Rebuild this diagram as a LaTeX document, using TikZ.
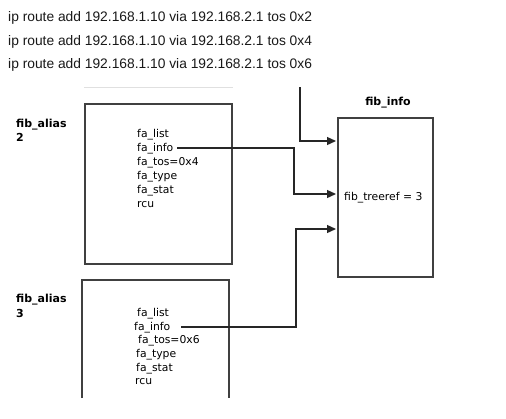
\documentclass[tikz,border=0pt]{standalone}
\usepackage{fontspec}
\setmainfont{DejaVu Sans}
\newfontfamily\arialfont{Liberation Sans}
\usetikzlibrary{arrows.meta}
\begin{document}
\begin{tikzpicture}[x=1pt,y=-1pt,
  cmd/.style={font=\arialfont\fontsize{13.8}{16}\selectfont, anchor=base west, inner sep=0pt, text=black!90},
  field/.style={font=\fontsize{10.8}{12}\selectfont, anchor=base west, inner sep=0pt},
  title/.style={font=\bfseries\fontsize{11}{13}\selectfont, inner sep=0pt},
  boxline/.style={draw=black!75, line width=1.5pt},
  conn/.style={draw=black!85, line width=1.3pt},
  arr/.style={conn, -{Triangle[length=9pt,width=8pt]}},
  faint/.style={draw=black!12, line width=1pt}
]
\useasboundingbox[fill=white] (0,0) rectangle (506,418);

% command lines
\node[cmd] (c1) at (8,21) {ip route add 192.168.1.10 via 192.168.2.1 tos 0x2};
\node[cmd] (c2) at (8,45) {ip route add 192.168.1.10 via 192.168.2.1 tos 0x4};
\node[cmd] (c3) at (8,68) {ip route add 192.168.1.10 via 192.168.2.1 tos 0x6};

% faint line above box
\coordinate (f1) at (84,87);
\coordinate (f2) at (233,87);
\draw[faint] (f1) -- (f2);

% fib_alias 2 box
\node[boxline, minimum width=147pt, minimum height=160pt, anchor=north west, inner sep=0pt] (fa2) at (84,103) {};
\node[title, anchor=base west] (t2a) at (16,127) {fib\_alias};
\node[title, anchor=base west] (t2b) at (16,141) {2};
\node[field] (l2a) at (137,137) {fa\_list};
\node[field] (l2b) at (137,151) {fa\_info};
\node[field] (l2c) at (137,165) {fa\_tos=0x4};
\node[field] (l2d) at (137,179) {fa\_type};
\node[field] (l2e) at (137,193) {fa\_stat};
\node[field] (l2f) at (137,207) {rcu};

% fib_alias 3 box (cut off at the bottom)
\coordinate (b3a) at (82,398);
\coordinate (b3b) at (82,280);
\coordinate (b3c) at (229,280);
\coordinate (b3d) at (229,398);
\draw[boxline] (b3a) -- (b3b) -- (b3c) -- (b3d);
\node[title, anchor=base west] (t3a) at (16,302) {fib\_alias};
\node[title, anchor=base west] (t3b) at (16,317) {3};
\node[field] (l3a) at (137,316) {fa\_list};
\node[field] (l3b) at (134,330) {fa\_info};
\node[field] (l3c) at (138,343.5) {fa\_tos=0x6};
\node[field] (l3d) at (136,357) {fa\_type};
\node[field] (l3e) at (136,371) {fa\_stat};
\node[field] (l3f) at (135,384.5) {rcu};

% fib_info box
\node[boxline, minimum width=95pt, minimum height=159pt, anchor=north west, inner sep=0pt] (fi) at (337,117) {};
\node[title, anchor=base] (tfi) at (388,105) {fib\_info};
\node[field] (tr) at (344,200) {fib\_treeref = 3};

% connectors
\coordinate (in1) at (300,87);
\coordinate (e1) at (336,141);
\draw[arr] (in1) |- (e1);

\coordinate (s2) at (177,148);
\coordinate (k2) at (294,148);
\coordinate (e2) at (336,194);
\draw[arr] (s2) -- (k2) |- (e2);

\coordinate (s3) at (181,327);
\coordinate (k3) at (296,327);
\coordinate (e3) at (336,229);
\draw[arr] (s3) -- (k3) |- (e3);
\end{tikzpicture}
\end{document}
